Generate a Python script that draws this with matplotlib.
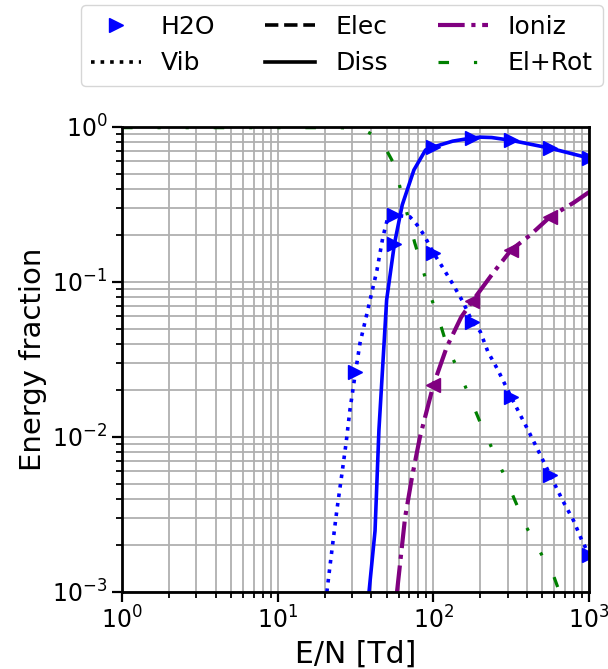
import matplotlib
matplotlib.use('Agg')
import matplotlib.pyplot as plt
from matplotlib.lines import Line2D

# E/N [Td] and energy fractions
vib_x = [20.7, 21.7, 24.0, 25.9, 27.5, 29.1, 31.6, 33.8, 37.5, 43.4, 47.4, 51.1, 56.2,
         70.8, 78.7, 87.1, 100, 110, 132, 155, 178, 200, 224, 260, 316, 398, 468, 562,
         676, 794, 891, 1000]
vib_y = [0.001, 0.00149, 0.00338, 0.00586, 0.00914, 0.0149, 0.0262, 0.0404, 0.063, 0.119,
         0.195, 0.263, 0.27, 0.263, 0.233, 0.201, 0.154, 0.133, 0.0986, 0.0743, 0.0552,
         0.0479, 0.0355, 0.027, 0.0181, 0.0115, 0.0083, 0.0057, 0.0039, 0.0029, 0.0022,
         0.00174]
vib_marks = [6, 12, 16, 20, 24, 27, 31]

diss_x = [38.6, 42.2, 44.7, 50.1, 56.2, 63.1, 75.0, 89.1, 100, 133, 178, 200, 237, 316, 562, 1000]
diss_y = [0.001, 0.00248, 0.0111, 0.0766, 0.176, 0.314, 0.528, 0.711, 0.743, 0.81, 0.85,
          0.86, 0.855, 0.82, 0.73, 0.63]
diss_marks = [4, 8, 10, 13, 14, 15]

ion_x = [58.4, 65.8, 72.9, 82.0, 100, 122, 151, 178, 243, 316, 417, 562, 794, 1000]
ion_y = [0.001, 0.00302, 0.0055, 0.01, 0.0216, 0.0381, 0.0594, 0.0753, 0.115, 0.161, 0.2,
         0.263, 0.324, 0.38]
ion_marks = [4, 7, 9, 11]

elrot_x = [1, 10, 25, 31.6, 36.3, 40.9, 43.4, 46.8, 55.0, 61.0, 67.6, 75.9, 84.5, 95.1, 110,
           123, 148, 174, 202, 240, 289, 334, 398, 490, 589, 646]
elrot_y = [0.99, 0.99, 0.99, 0.98, 0.95, 0.89, 0.85, 0.80, 0.594, 0.41, 0.279, 0.179, 0.126,
           0.0832, 0.055, 0.038, 0.0257, 0.0174, 0.0121, 0.0083, 0.0055, 0.0039, 0.0026,
           0.00178, 0.00129, 0.001]

labels = ['H2O', 'Vib', 'Elec', 'Diss', 'Ioniz', 'El+Rot']
elrot_dash = (3.3, 7.8, 1, 7.8, 1, 7.8)

fig = plt.figure(figsize=(6.08, 6.69), dpi=100)
ax = fig.add_axes([0.2007, 0.1151, 0.7681, 0.6951])

ax.plot(vib_x, vib_y, color='blue', ls=':', lw=2.6, marker='>', ms=10,
        markevery=vib_marks)
ax.plot(diss_x, diss_y, color='blue', ls='-', lw=2.6, marker='>', ms=10,
        markevery=diss_marks)
ax.plot(ion_x, ion_y, color='purple', ls='-.', lw=3, marker='<', ms=10,
        markevery=ion_marks)
ax.plot(elrot_x, elrot_y, color='green', lw=2.3, dashes=elrot_dash)

ax.set_xscale('log')
ax.set_yscale('log')
ax.set_xlim(1, 1000)
ax.set_ylim(1e-3, 1)
ax.grid(True, which='both', color='#b0b0b0', lw=1.3)
ax.tick_params(which='major', labelsize=17, length=7, width=1.6)
ax.tick_params(which='minor', length=4, width=1.3)
for s in ax.spines.values():
    s.set_linewidth(2)
ax.set_xlabel('E/N [Td]', fontsize=21.5)
ax.set_ylabel('Energy fraction', fontsize=21)

handles = [
    Line2D([], [], color='blue', marker='>', ls='none', ms=10),
    Line2D([], [], color='black', ls=':', lw=2.6),
    Line2D([], [], color='black', ls='--', lw=2.6),
    Line2D([], [], color='black', ls='-', lw=2.6),
    Line2D([], [], color='purple', ls='-.', lw=3),
    Line2D([], [], color='green', lw=2.3, dashes=elrot_dash),
]
fig.legend(handles, labels, ncol=3, fontsize=18, loc='upper right',
           bbox_to_anchor=(603 / 608, 1 - 5 / 669), borderaxespad=0)

fig.savefig('out.png', dpi=100)
